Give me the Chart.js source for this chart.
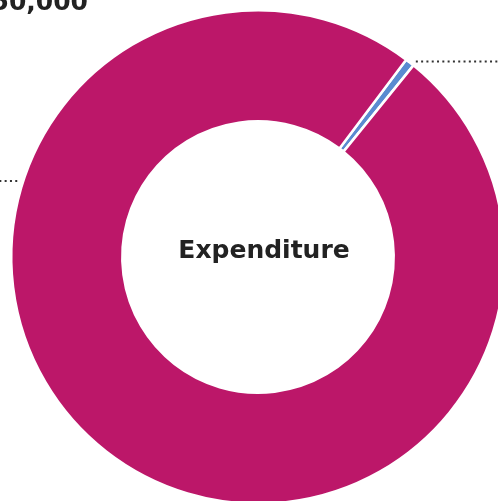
<!DOCTYPE html>
<html>
<head>
<meta charset="utf-8">
<script src="https://cdn.jsdelivr.net/npm/chart.js@4.4.1/dist/chart.umd.min.js"></script>
<style>
  html, body { margin: 0; padding: 0; background: #fff; overflow: hidden; }
  #wrap { position: absolute; left: 0; top: 0; width: 520px; height: 520px; }
</style>
</head>
<body>
<div id="wrap"><canvas id="chart" width="520" height="520"></canvas></div>
<script>
// Данные диаграммы
const categories = ['Other', 'Expenditure total'];
const values = [300, 50000];
const colors = ['#5a8bd1', '#bc1769'];
const centerTitle = 'Expenditure';
const cornerValue = '50,000';

// Подписи и выноски
const leaderPlugin = {
    id: 'leaders',
    afterDraw(chart) {
        const ctx = chart.ctx;
        const meta = chart.getDatasetMeta(0);
        const blue = meta.data[0];
        const cx = blue.x, cy = blue.y, r = blue.outerRadius;

        ctx.save();
        ctx.strokeStyle = '#333';
        ctx.lineWidth = 2;
        ctx.setLineDash([2, 3.3]);

        // выноска от маленького сегмента вправо
        const mid = (blue.startAngle + blue.endAngle) / 2;
        const bx = cx + r * Math.cos(mid);
        const by = cy + r * Math.sin(mid);
        ctx.beginPath();
        ctx.moveTo(bx + 6, by - 1);
        ctx.lineTo(chart.width, by - 1);
        ctx.stroke();

        // выноска от большого сегмента влево
        const ly = cy - 76;
        const lx = cx - Math.sqrt(r * r - 76 * 76);
        ctx.beginPath();
        ctx.moveTo(lx - 6, ly);
        ctx.lineTo(0, ly);
        ctx.stroke();
        ctx.setLineDash([]);

        // текст в центре и значение
        ctx.fillStyle = '#222';
        ctx.font = 'bold 25px "DejaVu Sans"';
        ctx.textAlign = 'center';
        ctx.textBaseline = 'alphabetic';
        ctx.fillText(centerTitle, cx + 6, cy + 1);

        ctx.font = 'bold 25px "DejaVu Sans"';
        ctx.textAlign = 'right';
        ctx.fillText(cornerValue, 88, 10);
        ctx.restore();
    }
};

new Chart(document.getElementById('chart').getContext('2d'), {
    type: 'doughnut',
    data: {
        labels: categories,
        datasets: [{
            data: values,
            backgroundColor: colors,
            borderColor: '#fff',
            borderWidth: 2.5
        }]
    },
    options: {
        responsive: false,
        animation: false,
        devicePixelRatio: 1,
        rotation: 36.9,
        cutout: '55%',
        layout: { padding: { left: 10, top: 9, right: 14, bottom: 15 } },
        plugins: {
            legend: { display: false },
            tooltip: { enabled: false }
        }
    },
    plugins: [leaderPlugin]
});
</script>
</body>
</html>
